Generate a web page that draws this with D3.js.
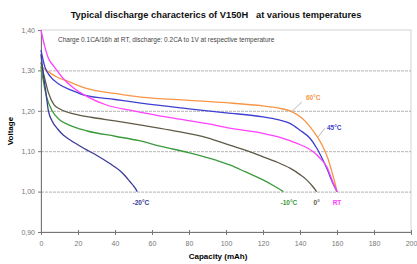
<!DOCTYPE html>
<html>
<head>
<meta charset="utf-8">
<script src="https://cdn.jsdelivr.net/npm/d3@7"></script>
<style>
  body { margin: 0; background: #fff; }
  svg { font-family: "Liberation Sans", Arial, sans-serif; }
</style>
</head>
<body>
<svg id="chart" width="417" height="264"></svg>
<script>
// data: [capacity mAh, voltage V]
const seriesNames = ["60°C", "45°C", "RT", "0°", "-10°C", "-20°C"];
const seriesColors = ["#f79646", "#3f3fd0", "#ff40ff", "#5f5a45", "#3c9a3c", "#3b3b98"];

const t60 = [[0,1.31],[3,1.30],[8,1.285],[15,1.272],[24,1.256],[40,1.243],[54,1.234],[80,1.226],[100,1.22],[120,1.212],[128,1.207],[135.5,1.198],[141,1.182],[145.4,1.161],[149,1.138],[152.4,1.111],[155,1.083],[157,1.053],[158.7,1.025],[160,1.00]];
const t45 = [[0,1.35],[2,1.31],[5,1.285],[10,1.265],[17,1.25],[24,1.238],[40,1.228],[54,1.219],[80,1.205],[100,1.195],[120,1.185],[128,1.178],[134.6,1.169],[140,1.152],[145.4,1.132],[149,1.108],[152.4,1.078],[155,1.052],[157,1.029],[160,1.00]];
const tRT = [[0,1.40],[2,1.36],[4,1.33],[7,1.31],[12,1.28],[18,1.255],[25,1.235],[35,1.215],[50,1.20],[70,1.183],[90,1.168],[102,1.157],[120,1.144],[130,1.133],[138,1.12],[147,1.099],[151,1.082],[154.4,1.062],[158,1.021],[160,1.00]];
const t0 = [[0,1.32],[2,1.28],[4,1.245],[7,1.215],[10,1.205],[14,1.197],[20,1.19],[27,1.184],[40,1.175],[55,1.164],[70,1.152],[90,1.133],[102,1.115],[112,1.10],[120,1.086],[128,1.072],[134.6,1.058],[140,1.042],[143.6,1.029],[147,1.012],[149,1.00]];
const tm10 = [[0,1.31],[1,1.28],[3,1.235],[6,1.20],[10,1.178],[15,1.165],[25,1.15],[40,1.137],[53,1.126],[65,1.112],[80,1.096],[95,1.077],[102,1.066],[110,1.05],[120,1.029],[126,1.014],[131,1.00]];
const tm20 = [[0,1.34],[1,1.30],[2.5,1.25],[4,1.20],[6,1.175],[9,1.155],[12,1.14],[16,1.127],[24,1.105],[30,1.09],[37,1.07],[44,1.046],[48,1.025],[51,1.008],[52,1.00]];
const seriesData = [t60, t45, tRT, t0, tm10, tm20];

const xTicks = [0, 20, 40, 60, 80, 100, 120, 140, 160, 180, 200];
const yTicks = [0.9, 1.0, 1.1, 1.2, 1.3, 1.4];

const margin = { top: 30, right: 6, bottom: 32, left: 41 };
const W = 417, H = 264;
const width = W - margin.left - margin.right;
const height = H - margin.top - margin.bottom;

const svg = d3.select("#chart");
const g = svg.append("g").attr("transform", `translate(${margin.left},${margin.top})`);

const x = d3.scaleLinear().domain([0, 200]).range([0, width]);
const y = d3.scaleLinear().domain([0.9, 1.4]).range([height, 0]);

// title
svg.append("text")
    .attr("x", 216).attr("y", 18)
    .attr("text-anchor", "middle")
    .attr("font-size", 9.3).attr("font-weight", "bold")
    .attr("fill", "#111")
    .text("Typical discharge characterics of V150H\u00a0\u00a0\u00a0at various temperatures");

// plot border
g.append("rect")
    .attr("width", width).attr("height", height)
    .attr("fill", "#fff").attr("stroke", "#c8c8c8").attr("stroke-width", 0.8);

// grid
g.append("g")
    .call(d3.axisLeft(y).tickValues(yTicks.slice(1, 5)).tickSize(-width).tickFormat(""))
    .call(a => a.select(".domain").remove())
    .call(a => a.selectAll(".tick line").attr("stroke", "#a0a0a0").attr("stroke-dasharray", "3,1").attr("stroke-width", 0.8));

// axes
const fmt = d => d.toFixed(2).replace(".", ",");
g.append("g")
    .call(d3.axisLeft(y).tickValues(yTicks).tickFormat(fmt).tickSize(3).tickPadding(3))
    .call(a => a.select(".domain").attr("stroke", "#777"))
    .call(a => a.selectAll(".tick line").attr("stroke", "#777"))
    .call(a => a.selectAll("text").attr("fill", "#777").attr("font-size", 7).attr("font-family", "Liberation Sans, Arial"));

g.append("g")
    .attr("transform", `translate(0,${height})`)
    .call(d3.axisBottom(x).tickValues(xTicks).tickSize(3).tickPadding(6))
    .call(a => a.select(".domain").attr("stroke", "#777"))
    .call(a => a.selectAll(".tick line").attr("stroke", "#777").attr("y1", -2))
    .call(a => a.selectAll("text").attr("fill", "#777").attr("font-size", 7).attr("font-family", "Liberation Sans, Arial"));

// annotation
g.append("text")
    .attr("x", 17).attr("y", 12)
    .attr("font-size", 6.5).attr("fill", "#444")
    .text("Charge 0.1CA/16h at RT, discharge: 0.2CA to 1V at respective temperature");

// curves
const line = d3.line()
    .x(d => x(d[0]))
    .y(d => y(d[1]))
    .curve(d3.curveMonotoneX);

seriesData.forEach((s, i) => {
    g.append("path")
        .datum(s)
        .attr("d", line)
        .attr("fill", "none")
        .attr("stroke", seriesColors[i])
        .attr("stroke-width", 1.3);
});

// series labels with leader lines
const labels = [
    { i: 0, lx: 143.2, ly: 1.227, px: 135.5, py: 1.198, tx: 141, ty: 1.222 },
    { i: 1, lx: 154.6, ly: 1.152, px: 149.7, py: 1.135, tx: 153.5, ty: 1.157 },
];
labels.forEach(l => {
    g.append("line")
        .attr("x1", x(l.px)).attr("y1", y(l.py))
        .attr("x2", x(l.tx)).attr("y2", y(l.ty))
        .attr("stroke", "#999").attr("stroke-width", 0.7);
    g.append("text")
        .attr("x", x(l.lx)).attr("y", y(l.ly))
        .attr("font-size", 6.5).attr("font-weight", "bold")
        .attr("fill", seriesColors[l.i])
        .text(seriesNames[l.i]);
});

const bottomLabels = [
    { i: 5, cx: 54 },
    { i: 4, cx: 134 },
    { i: 3, cx: 149 },
    { i: 2, cx: 160 },
];
bottomLabels.forEach(l => {
    g.append("text")
        .attr("x", x(l.cx)).attr("y", y(0.966))
        .attr("text-anchor", "middle")
        .attr("font-size", 6.5).attr("font-weight", "bold")
        .attr("fill", seriesColors[l.i])
        .text(seriesNames[l.i]);
});

// axis titles
svg.append("text")
    .attr("x", 218).attr("y", 259)
    .attr("text-anchor", "middle")
    .attr("font-size", 8).attr("font-weight", "bold")
    .text("Capacity (mAh)");

svg.append("text")
    .attr("transform", `translate(13,${margin.top + height / 2}) rotate(-90)`)
    .attr("text-anchor", "middle")
    .attr("font-size", 8).attr("font-weight", "bold")
    .text("Voltage");
</script>
</body>
</html>
